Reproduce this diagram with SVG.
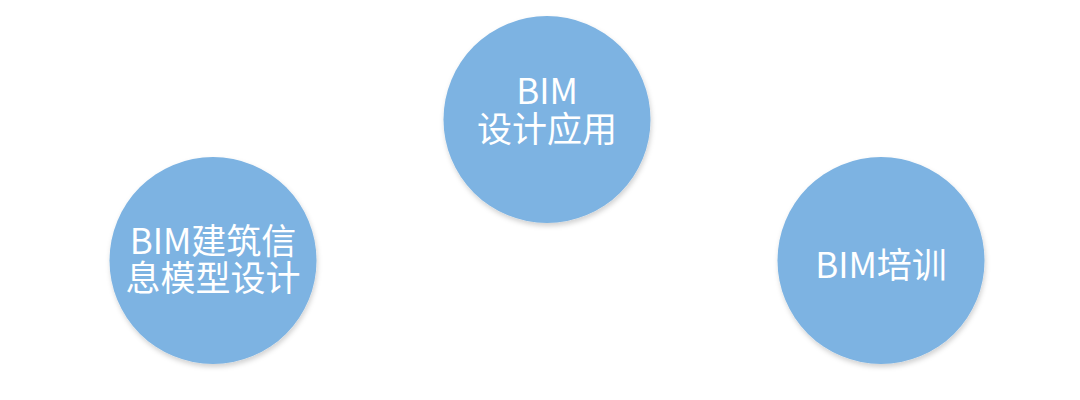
<svg xmlns="http://www.w3.org/2000/svg" width="1080" height="400" viewBox="0 0 1080 400">
<style>
.c{fill:#7db3e2;filter:url(#sh)}
.t{fill:#ffffff;font-family:"Noto Sans CJK SC","Noto Sans",sans-serif;font-size:35px;text-anchor:middle}
</style>
<defs>
<filter id="sh" x="-20%" y="-20%" width="140%" height="140%">
<feDropShadow dx="1" dy="3" stdDeviation="2.5" flood-color="#000" flood-opacity="0.18"/>
</filter>
</defs>
<rect width="1080" height="400" fill="#ffffff"/>
<g id="node-left">
<circle class="c" cx="213" cy="260.5" r="103.5"/>
<text class="t"><tspan x="213" y="254">BIM建筑信</tspan><tspan x="213" y="291">息模型设计</tspan></text>
</g>
<g id="node-top">
<circle class="c" cx="547" cy="119.5" r="103.5"/>
<text class="t"><tspan x="547" y="104">BIM</tspan><tspan x="547" y="142">设计应用</tspan></text>
</g>
<g id="node-right">
<circle class="c" cx="881" cy="260.5" r="103.5"/>
<text class="t" x="881" y="278">BIM培训</text>
</g>
<g id="connectors"></g>
</svg>
